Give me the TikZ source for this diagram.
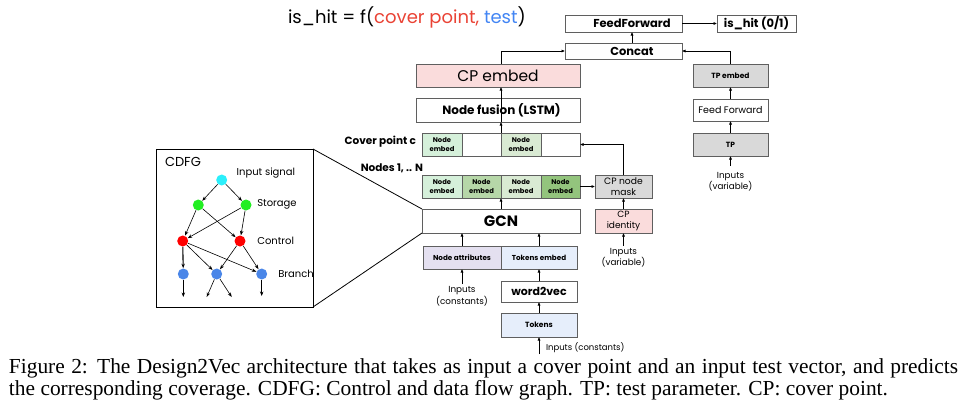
\documentclass[tikz,border=0pt]{standalone}
\usepackage{fontspec}
\setmainfont{Poppins}
\newfontfamily\capfont{Liberation Serif}
\usetikzlibrary{arrows.meta,calc}
\definecolor{bordc}{HTML}{5F5F5F}
\definecolor{tred}{HTML}{EA4335}
\definecolor{tblue}{HTML}{4285F4}
\definecolor{pinkf}{HTML}{FADCDC}
\definecolor{grayf}{HTML}{D9D9D9}
\definecolor{lavf}{HTML}{E4E0F0}
\definecolor{bluef}{HTML}{E6EEFB}
\definecolor{ga}{HTML}{D5F0DA}
\definecolor{gb}{HTML}{B6D7A8}
\definecolor{gc}{HTML}{D9EAD3}
\definecolor{gd}{HTML}{93C47D}
\definecolor{dcyan}{HTML}{2BEFFB}
\definecolor{dgreen}{HTML}{22EE22}
\definecolor{dred}{HTML}{FF0000}
\definecolor{dblue}{HTML}{4A86E8}
\newcommand\fz[2]{\fontsize{#1}{#2}\selectfont}
\begin{document}
\begin{tikzpicture}[x=1pt,y=-1pt,
 box/.style={draw=bordc,line width=0.8pt,inner sep=0pt,outer sep=0pt,align=center,text=black},
 cell/.style={box,minimum height=23pt,font=\fz{6.8}{8.2}\bfseries},
 arr/.style={draw=black,line width=0.75pt,-{Latex[length=3.5pt,width=3.2pt]}},
 gar/.style={draw=black,line width=0.6pt,-{Stealth[length=4.5pt,width=3.4pt]}},
 dot/.style={circle,minimum size=11pt,inner sep=0pt,outer sep=0.3pt},
 lbl/.style={inner sep=0pt,outer sep=0pt}]
\useasboundingbox (0,0) rectangle (975,408);
\fill[white] (0,0) rectangle (975,408);

% title
\node[lbl,anchor=base west,font=\fz{18}{20}] (title) at (288,23) {is\_hit = f(\textcolor{tred}{cover point,} \textcolor{tblue}{test})};

% top boxes
\node[box,minimum width=117pt,minimum height=17pt,font=\fz{11.5}{13}\bfseries] (ff) at (623.5,23.5) {\hspace*{17pt}FeedForward};
\node[box,minimum width=79pt,minimum height=17pt,font=\fz{11.5}{13}\bfseries] (hit) at (756.5,23.5) {is\_hit (0/1)};
\node[box,minimum width=117pt,minimum height=16pt,font=\fz{11.5}{13}\bfseries] (concat) at (623.5,51) {\hspace*{17pt}Concat};
\node[box,fill=pinkf,minimum width=164pt,minimum height=23pt,font=\fz{15.5}{17}] (cpemb) at (498,75.5) {CP embed};
\node[box,minimum width=164pt,minimum height=24pt,font=\fz{12}{14}\bfseries] (fusion) at (498,110) {\hspace*{7pt}Node fusion (LSTM)};
\node[box,fill=grayf,minimum width=75pt,minimum height=23pt,font=\fz{7.5}{9}\bfseries] (tpemb) at (730.5,75.5) {TP embed};
\node[box,minimum width=75pt,minimum height=22pt,font=\fz{9.5}{11}] (ffw) at (730.5,110) {Feed Forward};
\node[box,fill=grayf,minimum width=75pt,minimum height=23pt,font=\fz{7.5}{9}\bfseries] (tp) at (730.5,144.5) {TP};
\node[lbl,anchor=north,align=center,font=\fz{8.8}{10.5}] (tpin) at (730.5,172) {Inputs\\(variable)};
\coordinate (tpinA) at (730.5,166);

% cover point row
\node[cell,fill=ga,minimum width=40pt] (cv1) at (442,144.5) {Node\\embed};
\node[cell,minimum width=39pt] (cv2) at (481.5,144.5) {};
\node[cell,fill=gc,minimum width=40pt] (cv3) at (521,144.5) {Node\\embed};
\node[cell,minimum width=39pt] (cv4) at (560.5,144.5) {};
\node[lbl,anchor=base east,font=\fz{10.5}{12}\bfseries] (cplab) at (416,144) {Cover point c};
% nodes row
\node[cell,fill=ga,minimum width=40pt] (n1) at (442,186.5) {Node\\embed};
\node[cell,fill=gb,minimum width=39pt] (n2) at (481.5,186.5) {Node\\embed};
\node[cell,fill=gc,minimum width=40pt] (n3) at (521,186.5) {Node\\embed};
\node[cell,fill=gd,minimum width=39pt] (n4) at (560.5,186.5) {Node\\embed};
\node[lbl,anchor=base east,font=\fz{10.5}{12}\bfseries] (nlab) at (423,171) {Nodes 1, .. N};

\node[box,fill=grayf,minimum width=57pt,minimum height=23pt,font=\fz{9.2}{11.5}] (mask) at (623.5,186.5) {CP node\\mask};
\node[box,minimum width=158pt,minimum height=24pt,font=\fz{15}{17}\bfseries] (gcn) at (501,221) {GCN};
\node[box,fill=pinkf,minimum width=57pt,minimum height=24pt,font=\fz{9}{11}] (cpid) at (623.5,221) {CP\\identity};
\node[lbl,anchor=north,align=center,font=\fz{8.8}{10.5}] (cpin) at (623.5,248) {Inputs\\(variable)};
\coordinate (cpinA) at (623.5,246);

\node[box,fill=lavf,minimum width=78pt,minimum height=23pt,font=\fz{7.2}{9}\bfseries] (nattr) at (462,257.5) {Node attributes};
\node[box,fill=bluef,minimum width=76pt,minimum height=23pt,font=\fz{7.2}{9}\bfseries] (tokemb) at (539,257.5) {Tokens embed};
\node[lbl,anchor=north,align=center,font=\fz{8.8}{11.5}] (nin) at (462,286.5) {Inputs\\(constants)};
\coordinate (ninA) at (462,284);
\node[box,minimum width=76pt,minimum height=21pt,font=\fz{11}{13}\bfseries] (w2v) at (539,291.5) {word2vec};
\node[box,fill=bluef,minimum width=76pt,minimum height=24pt,font=\fz{7.5}{9}\bfseries] (tokens) at (539,325) {Tokens};
\coordinate (tokA) at (539,354);
\node[lbl,anchor=base west,font=\fz{8.5}{10}] (tokin) at (546,350) {Inputs (constants)};

% connectors main
\coordinate (ax) at (632,0);
\draw[arr] (ff.east) -- (hit.west);
\draw[arr] (concat.north -| ax) -- (ff.south -| ax);
\draw[arr] (cpemb.north -| cv2.north east) |- (concat.west);
\draw[arr] (tpemb.north) |- (concat.east);
\draw[arr] (fusion.south -| cv2.north east) -- (cpemb.south -| cv2.north east);
\draw[arr] (cv2.north east) -- (fusion.south -| cv2.north east);
\draw[arr] (ffw.north) -- (tpemb.south);
\draw[arr] (tp.north) -- (ffw.south);
\draw[arr] (tpinA) -- (tp.south);
\draw[arr] (n4.east) -- (mask.west);
\draw[arr] (mask.north) |- (cv4.east);
\draw[arr] (gcn.north -| n2.south east) -- (n2.south east);
\draw[arr] (cpid.north) -- (mask.south);
\draw[arr] (cpinA) -- (cpid.south);
\draw[arr] (nattr.north) -- (gcn.south -| nattr.north);
\draw[arr] (tokemb.north) -- (gcn.south -| tokemb.north);
\draw[arr] (ninA) -- (nattr.south);
\draw[arr] (w2v.north) -- (tokemb.south);
\draw[arr] (tokens.north) -- (w2v.south);
\draw[arr] (tokA) -- (tokens.south);

% CDFG panel
\node[draw=black,line width=0.9pt,minimum width=157pt,minimum height=158pt,inner sep=0pt,outer sep=0pt] (cdfg) at (234.5,228) {};
\draw[line width=0.8pt] (cdfg.north east) -- (gcn.north west);
\draw[line width=0.8pt] (cdfg.south east) -- (gcn.south west);
\node[lbl,anchor=west,font=\fz{13}{15}] (cdfglab) at (165,161.5) {CDFG};

\node[dot,fill=dcyan] (in) at (221.7,180) {};
\node[dot,fill=dgreen] (s1) at (198.3,205) {};
\node[dot,fill=dgreen] (s2) at (246,205) {};
\node[dot,fill=dred] (c1) at (182.7,241) {};
\node[dot,fill=dred] (c2) at (240,241) {};
\node[dot,fill=dblue] (b1) at (183.3,274) {};
\node[dot,fill=dblue] (b2) at (216.7,274) {};
\node[dot,fill=dblue] (b3) at (261.7,274) {};
\node[lbl,anchor=west,font=\fz{10}{12}] (lin) at (236.7,173.5) {Input signal};
\node[lbl,anchor=west,font=\fz{10}{12}] (lst) at (257.3,204.5) {Storage};
\node[lbl,anchor=west,font=\fz{10}{12}] (lco) at (257.3,240.5) {Control};
\node[lbl,anchor=west,font=\fz{10}{12}] (lbr) at (278.3,273.5) {Branch};

\coordinate (e1) at (183.3,297);
\coordinate (e2) at (206.7,297);
\coordinate (e3) at (231.7,297);
\coordinate (e4) at (261.7,296);

\draw[gar] (in) -- (s1);
\draw[gar] (in) -- (s2);
\draw[gar] (s1) -- (c1);
\draw[gar] (s1) -- (c2);
\draw[gar] (s2) -- (c1);
\draw[gar] (s2) -- (c2);
\draw[gar,line width=1.1pt] (c1) -- (b1);
\draw[gar] (c1) -- (b2);
\draw[gar] (c1) -- (b3);
\draw[gar] (c2) -- (b2);
\draw[gar] (c2) -- (b3);
\draw[gar] (b1) -- (e1);
\draw[gar] (b2) -- (e2);
\draw[gar] (b2) -- (e3);
\draw[gar] (b3) -- (e4);

% caption
\node[lbl,anchor=base west,font=\capfont\fz{21.4}{24}] (cap1) at (9,373) {\makebox[949pt][s]{Figure 2: The Design2Vec architecture that takes as input a cover point and an input test vector, and predicts}};
\node[lbl,anchor=base west,font=\capfont\fz{21.4}{24}] (cap2) at (9,395.5) {the corresponding coverage. CDFG: Control and data flow graph. TP: test parameter. CP: cover point.};
\end{tikzpicture}
\end{document}
